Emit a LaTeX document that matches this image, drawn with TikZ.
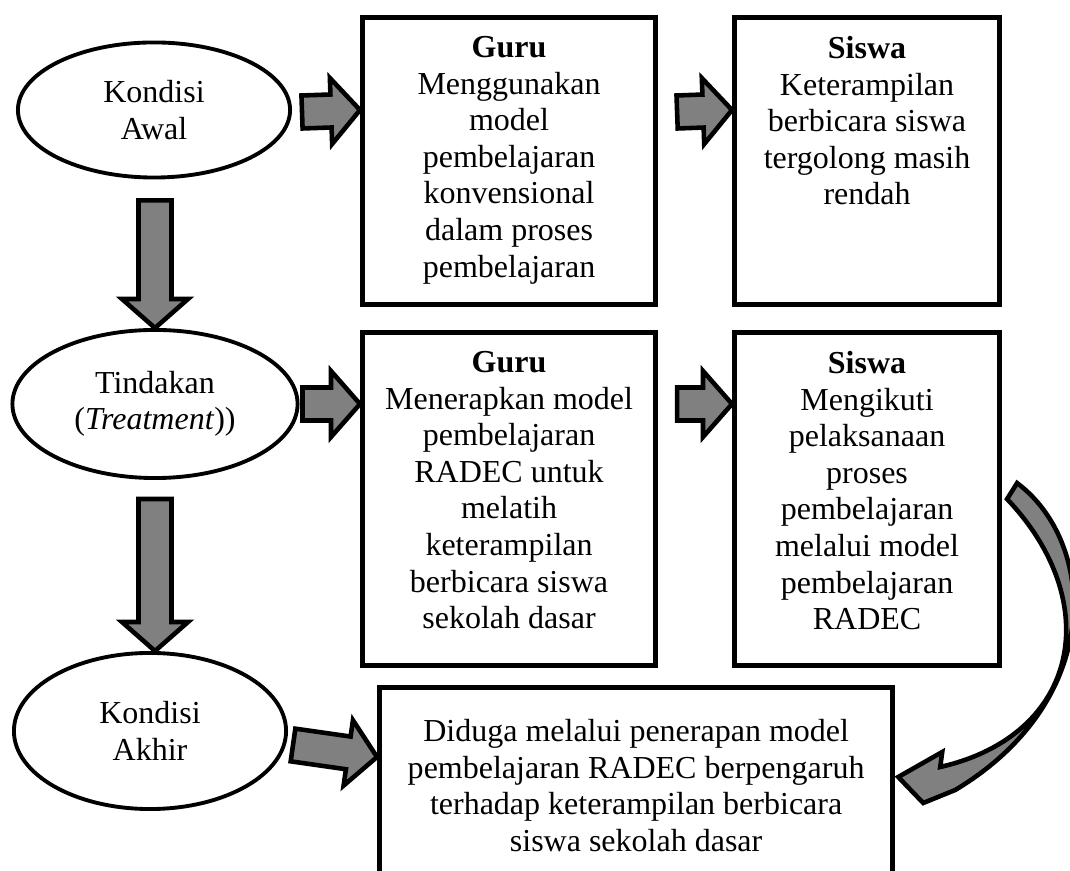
\documentclass[tikz,border=0pt]{standalone}
\usepackage{fontspec}
\setmainfont{Liberation Serif}
\usetikzlibrary{calc}
\usetikzlibrary{shapes.geometric}
\tikzset{elips/.style={draw, ellipse, line width=1.1pt, inner sep=0pt, align=center}}
\tikzset{kotak/.style={draw, line width=1.4pt, anchor=north west, inner xsep=0.1cm, inner ysep=0.19cm}}
\tikzset{abu/.style={draw, line width=1.3pt, fill=gray, line join=miter}}
\tikzset{panah/.style={abu, to path={
  ($(\tikztotarget)!0.29cm!(\tikztostart)$) coordinate (pb)
  ($(\tikztostart)!0.165cm!90:(\tikztotarget)$)
  -- ($(pb)!0.165cm!90:(\tikztotarget)$)
  -- ($(pb)!0.33cm!90:(\tikztotarget)$)
  -- (\tikztotarget)
  -- ($(pb)!0.33cm!-90:(\tikztotarget)$)
  -- ($(pb)!0.165cm!-90:(\tikztotarget)$)
  -- ($(\tikztostart)!0.165cm!-90:(\tikztotarget)$)
  -- cycle}}}
\newcommand{\isi}[3]{\parbox[t][#1][t]{#2}{\centering #3}}

\begin{document}
\begin{tikzpicture}[x=0.01cm, y=-0.01cm, font=\fontsize{9.1pt}{10.4pt}\selectfont]
\useasboundingbox (0,0) rectangle (1070,871);

% kondisi
\node[elips, minimum width=2.72cm, minimum height=1.35cm] (kawal) at (154,110) {Kondisi\\Awal};
\node[elips, minimum width=2.85cm, minimum height=1.48cm] (tindakan) at (155,404) {Tindakan\\(\textit{Treatment}))};
\node[elips, minimum width=2.72cm, minimum height=1.56cm] (kakhir) at (150,731) {Kondisi\\Akhir};

% guru dan siswa
\node[kotak] (guru1) at (360,15) {\isi{2.49cm}{2.73cm}{\textbf{Guru}\\Menggunakan\\model\\pembelajaran\\konvensional\\dalam proses\\pembelajaran}};
\node[kotak] (siswa1) at (732,15) {\isi{2.49cm}{2.45cm}{\textbf{Siswa}\\Keterampilan\\berbicara siswa\\tergolong masih\\rendah}};
\node[kotak] (guru2) at (360,330) {\isi{2.95cm}{2.73cm}{\textbf{Guru}\\Menerapkan model\\pembelajaran\\RADEC untuk\\melatih\\keterampilan\\berbicara siswa\\sekolah dasar}};
\node[kotak] (siswa2) at (732,330) {\isi{2.95cm}{2.45cm}{\textbf{Siswa}\\Mengikuti\\pelaksanaan\\proses\\pembelajaran\\melalui model\\pembelajaran\\RADEC}};
\node[kotak, inner ysep=0.32cm] (hasil) at (377,685) {\isi{1.31cm}{4.93cm}{Diduga melalui penerapan model\\pembelajaran RADEC berpengaruh\\terhadap keterampilan berbicara\\siswa sekolah dasar}};

% panah blok
\coordinate (masuk) at ($(hasil.north west)+(0,72)$);
\draw[panah] ($(kawal.east)+(10,2)$) to (guru1.west |- kawal.east);
\draw[panah] ($(guru1.east |- kawal.east)+(19,2)$) to (siswa1.west |- kawal.east);
\draw[panah] ($(tindakan.east)+(3,0)$) to (guru2.west |- tindakan.east);
\draw[panah] ($(guru2.east |- tindakan.east)+(19,0)$) to (siswa2.west |- tindakan.east);
\draw[panah] ($(kawal.south)+(1,21)$) to (tindakan.north);
\draw[panah] ($(tindakan.south)+(0,19)$) to (tindakan.south |- kakhir.north);
\draw[panah] ($(kakhir.east)+(5,14)$) to (masuk);

% panah lengkung
\coordinate (ekor) at ($(siswa2.east)+(10,-8)$);
\coordinate (ujung) at ($(hasil.north east)+(3,92)$);
\draw[abu] ($(ekor)+(5,-8)$) .. controls +(80,60) and +(150,-90) .. ($(ujung)+(57,13)$)
  -- ($(ujung)+(25,26)$) -- (ujung) -- ($(ujung)+(44,-25)$) -- ($(ujung)+(42,-10)$)
  .. controls +(140,-32) and +(98,103) .. ($(ekor)+(-5,8)$) -- cycle;
\end{tikzpicture}
\end{document}
